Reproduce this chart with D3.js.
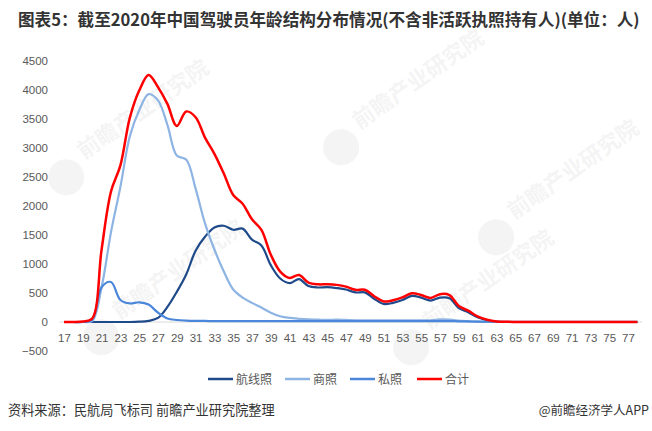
<!DOCTYPE html>
<html>
<head>
<meta charset="utf-8">
<script src="https://cdn.jsdelivr.net/npm/d3@7"></script>
<style>
  body { margin: 0; background: #fff; }
  text { font-family: "Liberation Sans", "Noto Sans CJK SC", sans-serif; }
  .cjk { font-family: "Noto Sans CJK SC", sans-serif; }
</style>
</head>
<body>
<svg id="chart"></svg>
<script>
const ages = d3.range(17, 79);
// 航线照
const airline = [0,0,0,0,0,0,0,0,5,20,70,260,520,820,1230,1470,1630,1660,1590,1610,1420,1320,980,750,670,740,620,595,600,585,560,510,510,400,310,330,380,450,420,370,420,410,240,170,80,30,5,0,0,0,0,0,0,0,0,0,0,0,0,0,0,0];
// 商照
const commercial = [0,0,0,20,600,1550,2330,3200,3650,3930,3820,3400,2870,2800,2300,1700,1250,870,560,420,330,250,160,100,70,55,45,40,35,40,35,30,30,30,30,30,30,30,30,30,45,40,25,10,5,3,0,0,0,0,0,0,0,0,0,0,0,0,0,0,0,0];
// 私照
const privateLic = [0,0,0,40,600,690,380,320,340,300,160,60,35,25,20,18,15,15,15,15,15,15,15,15,15,15,15,15,15,15,15,15,15,15,15,15,15,15,15,15,15,15,12,10,8,5,3,2,2,2,2,2,2,2,2,2,2,2,2,2,2,2];
// 合计
const total = [0,0,10,60,1250,2250,2700,3520,3990,4260,4050,3760,3380,3630,3530,3180,2900,2560,2190,2040,1770,1590,1160,870,760,810,680,650,650,640,610,555,555,445,355,375,425,495,465,415,480,465,275,195,95,38,8,3,2,2,2,2,2,2,2,2,2,2,2,2,2,2];
const yTicks = d3.range(-500, 4501, 500);
const xTicks = d3.range(17, 78, 2);

const series = [
  { name: "航线照", values: airline, color: "#1F4A8A", width: 2.2 },
  { name: "商照", values: commercial, color: "#8EB4E3", width: 2.2 },
  { name: "私照", values: privateLic, color: "#4A86DA", width: 2.2 },
  { name: "合计", values: total, color: "#FF0000", width: 2.5 }
];

const width = 652, height = 431;
const svg = d3.select("#chart").attr("width", width).attr("height", height);

// faint watermarks
const marks = [[95, 140], [130, 300], [370, 110], [440, 310], [525, 200]];
marks.forEach(([mx, my]) => {
  const g = svg.append("g").attr("transform", `translate(${mx},${my}) rotate(-35)`).attr("opacity", 0.06);
  g.append("circle").attr("cx", -45).attr("cy", 14).attr("r", 18).attr("fill", "#555");
  g.append("text").attr("class", "cjk").attr("x", -20).attr("y", 10)
    .style("font-size", "22px").style("font-weight", "bold").attr("fill", "#555").text("前瞻产业研究院");
});

const x = d3.scalePoint().domain(ages).range([59.3, 642.1]).padding(0.5);
const y = d3.scaleLinear().domain([-500, 4500]).range([351, 61]);

// title
svg.append("text").attr("class", "cjk")
  .attr("x", 18).attr("y", 26)
  .style("font-size", "16.6px").style("font-weight", "bold").attr("fill", "#333")
  .text("图表5：截至2020年中国驾驶员年龄结构分布情况(不含非活跃执照持有人)(单位：人)");

// zero line
svg.append("line")
  .attr("x1", 59.3).attr("x2", 642.1)
  .attr("y1", y(0)).attr("y2", y(0))
  .attr("stroke", "#D9D9D9").attr("stroke-width", 1);

// y axis labels
const yAxis = svg.append("g")
  .attr("transform", "translate(48,0)")
  .call(d3.axisLeft(y).tickValues(yTicks).tickFormat(d3.format("d")).tickSize(0).tickPadding(0));
yAxis.select(".domain").remove();
yAxis.selectAll("text").style("font-size", "11.5px").attr("fill", "#595959")
  .style("font-family", "'Liberation Sans', sans-serif");

// x axis labels
const xAxis = svg.append("g")
  .attr("transform", `translate(0,334)`)
  .call(d3.axisBottom(x).tickValues(xTicks).tickSize(0).tickPadding(0));
xAxis.select(".domain").remove();
xAxis.selectAll("text").style("font-size", "11.5px").attr("fill", "#595959")
  .style("font-family", "'Liberation Sans', sans-serif");

// lines
const line = d3.line()
  .x((d, i) => x(ages[i]))
  .y(d => y(d))
  .curve(d3.curveCatmullRom.alpha(0.5));

series.forEach(s => {
  svg.append("path")
    .datum(s.values)
    .attr("fill", "none")
    .attr("stroke", s.color)
    .attr("stroke-width", s.width)
    .attr("stroke-linejoin", "round")
    .attr("d", line);
});

// legend
const legendX = [208, 285, 350, 417];
series.forEach((s, i) => {
  const g = svg.append("g").attr("transform", `translate(${legendX[i]},379)`);
  g.append("line").attr("x1", 0).attr("x2", 25).attr("y1", 0).attr("y2", 0)
    .attr("stroke", s.color).attr("stroke-width", 2.5);
  g.append("text").attr("class", "cjk").attr("x", 28).attr("y", 4.5)
    .style("font-size", "12px").attr("fill", "#595959").text(s.name);
});

// footer
svg.append("text").attr("class", "cjk")
  .attr("x", 8).attr("y", 415)
  .style("font-size", "13.2px").attr("fill", "#333")
  .text("资料来源：民航局飞标司 前瞻产业研究院整理");
svg.append("text").attr("class", "cjk")
  .attr("x", 649).attr("y", 415).attr("text-anchor", "end")
  .style("font-size", "12.5px").attr("fill", "#333")
  .text("@前瞻经济学人APP");
</script>
</body>
</html>
